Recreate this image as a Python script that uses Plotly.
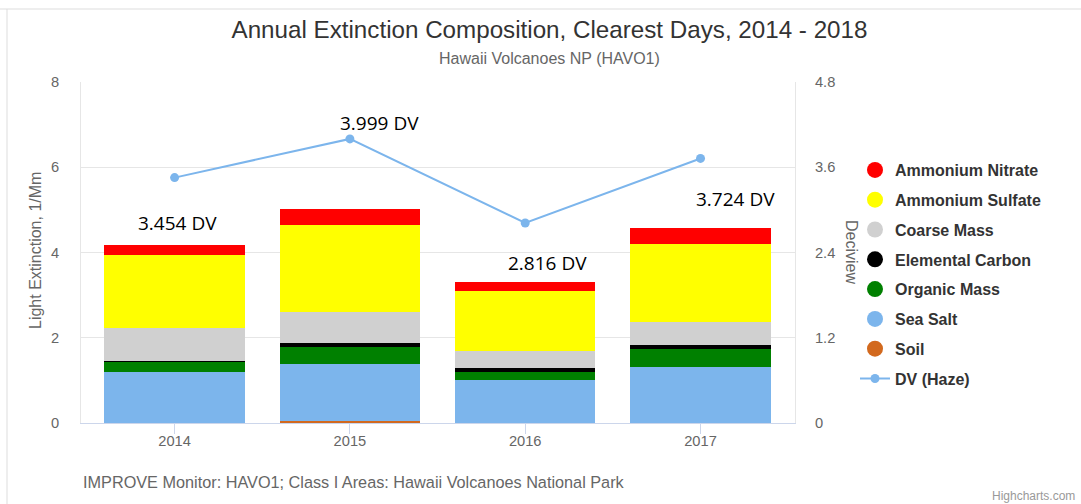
import plotly.graph_objects as go

years = ["2014", "2015", "2016", "2017"]
soil = [0.0, 0.04, 0.0, 0.0]
sea_salt = [1.20, 1.35, 1.02, 1.32]
organic_mass = [0.24, 0.39, 0.17, 0.42]
elemental_carbon = [0.02, 0.09, 0.11, 0.10]
coarse_mass = [0.76, 0.74, 0.39, 0.54]
ammonium_sulfate = [1.72, 2.04, 1.40, 1.83]
ammonium_nitrate = [0.23, 0.36, 0.22, 0.37]
dv_haze = [3.454, 3.999, 2.816, 3.724]
dv_labels = ["3.454 DV", "3.999 DV", "2.816 DV", "3.724 DV"]
dv_label_y = [4.69, 7.03, 3.76, 5.26]      # left-axis position of DV labels
dv_label_dx = [3, 30, 22, 35]              # pixel shift of DV labels

FONT = "Liberation Sans, Arial, sans-serif"
W, H = 1081, 504
L, R, T, B = 81, 286, 82, 81
pw, ph = W - L - R, H - T - B

def px_x(x):
    return (x - L) / pw

def px_y(y):
    return (H - B - y) / ph

stack = [
    ("Soil", soil, "#d2691e"),
    ("Sea Salt", sea_salt, "#7cb5ec"),
    ("Organic Mass", organic_mass, "#008000"),
    ("Elemental Carbon", elemental_carbon, "#000000"),
    ("Coarse Mass", coarse_mass, "#d0d0d0"),
    ("Ammonium Sulfate", ammonium_sulfate, "#ffff00"),
    ("Ammonium Nitrate", ammonium_nitrate, "#ff0000"),
]

fig = go.Figure()
for name, vals, col in stack:
    fig.add_trace(go.Bar(x=years, y=vals, name=name, marker=dict(color=col, line=dict(width=0)),
                         showlegend=False, legendgroup=name))

fig.add_trace(go.Scatter(x=years, y=dv_haze, yaxis="y2", mode="lines+markers", name="DV (Haze)",
                         line=dict(color="#7cb5ec", width=2), marker=dict(color="#7cb5ec", size=9),
                         showlegend=False, legendgroup="DV (Haze)"))

# legend entries (circle symbols as in the reference)
for name, vals, col in reversed(stack):
    fig.add_trace(go.Scatter(x=[None], y=[None], mode="markers", name=name, legendgroup=name,
                             marker=dict(color=col, size=16, symbol="circle")))
fig.add_trace(go.Scatter(x=[None], y=[None], yaxis="y2", mode="lines+markers", name="DV (Haze)",
                         legendgroup="DV (Haze)",
                         line=dict(color="#7cb5ec", width=2), marker=dict(color="#7cb5ec", size=9)))

annotations = []
for i, (t, yy, dx) in enumerate(zip(dv_labels, dv_label_y, dv_label_dx)):
    annotations.append(dict(x=i, y=yy, xref="x", yref="y", text=t, showarrow=False,
                            xshift=dx, font=dict(family="Open Sans, sans-serif", size=19, color="#000000")))

annotations += [
    dict(x=px_x(549.5), y=px_y(58), xref="paper", yref="paper", text="Hawaii Volcanoes NP (HAVO1)",
         showarrow=False, font=dict(family=FONT, size=16, color="#666666"), xanchor="center", yanchor="middle"),
    dict(x=px_x(35), y=px_y(251), xref="paper", yref="paper", text="Light Extinction, 1/Mm",
         showarrow=False, textangle=-90, font=dict(family=FONT, size=16, color="#666666"),
         xanchor="center", yanchor="middle"),
    dict(x=px_x(852), y=px_y(252), xref="paper", yref="paper", text="Deciview",
         showarrow=False, textangle=90, font=dict(family=FONT, size=16, color="#666666"),
         xanchor="center", yanchor="middle"),
    dict(x=px_x(81), y=px_y(482), xref="paper", yref="paper",
         text="IMPROVE Monitor: HAVO1; Class I Areas: Hawaii Volcanoes National Park",
         showarrow=False, font=dict(family=FONT, size=16.25, color="#666666"), xanchor="left", yanchor="middle"),
    dict(x=px_x(1077), y=px_y(496), xref="paper", yref="paper", text="Highcharts.com",
         showarrow=False, font=dict(family=FONT, size=12, color="#999999"), xanchor="right", yanchor="middle"),
]

shapes = [
    dict(type="line", xref="paper", yref="paper", x0=px_x(0), x1=px_x(W), y0=px_y(9), y1=px_y(9),
         line=dict(color="#dddddd", width=1)),
    dict(type="line", xref="paper", yref="paper", x0=px_x(7), x1=px_x(7), y0=px_y(9), y1=px_y(H),
         line=dict(color="#dddddd", width=1)),
]

fig.update_layout(
    width=W, height=H,
    margin=dict(l=L, r=R, t=T, b=B),
    paper_bgcolor="white", plot_bgcolor="white",
    barmode="stack", bargap=0.2,
    title=dict(text="Annual Extinction Composition, Clearest Days, 2014 - 2018",
               x=549.5 / W, xanchor="center", y=1 - 30 / H, yanchor="middle",
               font=dict(family=FONT, size=24.2, color="#333333")),
    xaxis=dict(type="category", range=[-0.534, 3.539], showgrid=False,
               showline=True, linecolor="#ccd6eb", linewidth=1,
               ticks="outside", ticklen=10, tickcolor="#ccd6eb", ticklabelstandoff=-6,
               tickfont=dict(family=FONT, size=14.67, color="#666666")),
    yaxis=dict(range=[0, 8], dtick=2, showgrid=True, gridcolor="#e6e6e6", zeroline=False,
               showline=True, linecolor="#e6e6e6", mirror=False,
               ticklabelstandoff=18,
               tickfont=dict(family=FONT, size=14.67, color="#666666")),
    yaxis2=dict(range=[0, 4.8], dtick=1.2, overlaying="y", side="right", showgrid=False, zeroline=False,
                showline=True, linecolor="#e6e6e6", ticklabelstandoff=16,
                tickfont=dict(family=FONT, size=14.67, color="#666666")),
    legend=dict(x=px_x(855), xanchor="left", y=px_y(153), yanchor="top",
                traceorder="grouped", tracegroupgap=6, itemsizing="trace",
                font=dict(family=FONT, size=16, color="#333333", weight="bold"),
                bgcolor="rgba(0,0,0,0)"),
    annotations=annotations,
    shapes=shapes,
)

fig.write_html("out.html", config={"displayModeBar": False},
               post_script="document.body.style.margin='0px';")
